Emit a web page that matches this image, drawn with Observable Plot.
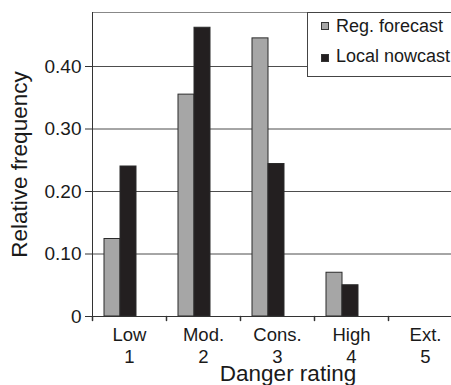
<!DOCTYPE html>
<html>
<head>
<meta charset="utf-8">
<script src="https://cdn.jsdelivr.net/npm/d3@7"></script>
<script src="https://cdn.jsdelivr.net/npm/@observablehq/plot@0.6"></script>
<style>
  html, body { margin: 0; padding: 0; background: #fff; }
  #wrap { position: relative; width: 451px; height: 385px; overflow: hidden; font-family: "Liberation Sans", Arial, sans-serif; }
  #legend { position: absolute; left: 307px; top: 12px; width: 200px; height: 65px; background: #fff; border: 1px solid #444; box-sizing: border-box; }
  .sw { position: absolute; left: 13px; width: 8px; height: 8px; border: 1px solid #333; box-sizing: border-box; }
  .lt { position: absolute; left: 28px; font-size: 18px; line-height: 18px; color: #1a1a1a; white-space: nowrap; }
</style>
</head>
<body>
<div id="wrap">
  <div id="chart"></div>
  <div id="legend"></div>
</div>
<script>
const categories = ["Low", "Mod.", "Cons.", "High", "Ext."];
const ratings = ["1", "2", "3", "4", "5"];
const seriesNames = ["Reg. forecast", "Local nowcast"];
const regForecast = [0.124, 0.355, 0.445, 0.070, 0];
const localNowcast = [0.240, 0.462, 0.244, 0.050, 0];
const yTicks = [0, 0.1, 0.2, 0.3, 0.4];
const yTickLabels = ["0", "0.10", "0.20", "0.30", "0.40"];
const gridValues = [0.1, 0.2, 0.3, 0.4];
const seriesColors = ["#a6a6a6", "#231f20"];
const xTitle = "Danger rating";
const yTitle = "Relative frequency";

const rows = categories.flatMap((c, i) => [
  {category: c, series: seriesNames[0], value: regForecast[i]},
  {category: c, series: seriesNames[1], value: localNowcast[i]}
]);
const catLabel = new Map(categories.map((c, i) => [c, c + "\n" + ratings[i]]));
const yLabel = new Map(yTicks.map((t, i) => [t, yTickLabels[i]]));
const tickShape = {draw(context, l) { context.moveTo(0, 0); context.lineTo(0, -l); }};

const chart = Plot.plot({
  width: 451,
  height: 385,
  marginLeft: 92,
  marginRight: 0,
  marginTop: 12,
  marginBottom: 69,
  style: {fontFamily: "Liberation Sans, Arial, sans-serif", color: "#1a1a1a", background: "transparent", overflow: "visible"},
  fx: {domain: categories, range: [92, 462], paddingInner: 0, paddingOuter: 0},
  x: {domain: seriesNames, paddingInner: 0, paddingOuter: 1.24, align: 0.283, axis: null},
  y: {domain: [0, 0.4864], axis: null},
  color: {domain: seriesNames, range: seriesColors},
  marks: [
    Plot.ruleY(gridValues, {stroke: "#4d4d4d", strokeWidth: 1}),
    Plot.barY(rows, {fx: "category", x: "series", y: "value", fill: "series", stroke: "#2b2b2b", strokeWidth: 1}),
    Plot.ruleY([0], {stroke: "#333"}),
    Plot.frame({anchor: "top", stroke: "#888"}),
    Plot.frame({anchor: "left", facetAnchor: "left", stroke: "#333"}),
    Plot.vector(categories, {fx: d => d, frameAnchor: "bottom-left", length: 4, rotate: 180, anchor: "start", stroke: "#333", shape: tickShape}),
    Plot.axisY({ticks: yTicks, tickFormat: d => yLabel.get(d), tickSize: 7, tickPadding: 4, fontSize: 19, label: null, stroke: "#333"}),
    Plot.axisY({ticks: [], label: yTitle, labelArrow: "none", labelAnchor: "center", labelOffset: 81, fontSize: 22.5}),
    Plot.axisFx({anchor: "bottom", tickSize: 0, tickPadding: 9, tickFormat: d => catLabel.get(d), fontSize: 18.5, lineHeight: 1.19, label: null}),
    Plot.text([xTitle], {facet: "super", frameAnchor: "bottom", lineAnchor: "top", dy: 49, dx: 10.5, fontSize: 22.5, fill: "#1a1a1a"})
  ]
});
document.getElementById("chart").appendChild(chart);

const legend = document.getElementById("legend");
const swTops = [9, 41];
const txTops = [4, 34];
seriesNames.forEach((name, i) => {
  const sw = document.createElement("div");
  sw.className = "sw";
  sw.style.top = swTops[i] + "px";
  sw.style.background = seriesColors[i];
  legend.appendChild(sw);
  const t = document.createElement("div");
  t.className = "lt";
  t.style.top = txTops[i] + "px";
  t.textContent = name;
  legend.appendChild(t);
});
</script>
</body>
</html>
